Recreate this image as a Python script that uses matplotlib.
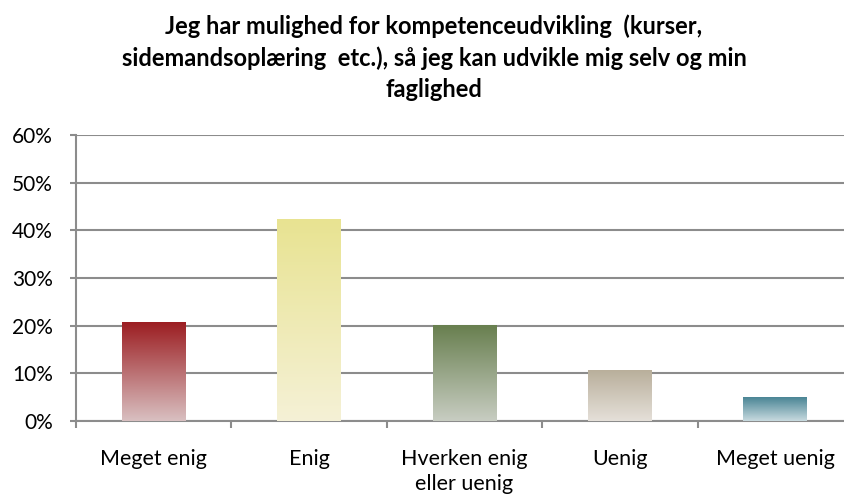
import numpy as np
import matplotlib.pyplot as plt
from matplotlib.colors import LinearSegmentedColormap

# data
categories = ["Meget enig", "Enig", "Hverken enig\neller uenig", "Uenig", "Meget uenig"]
values = [0.208, 0.424, 0.201, 0.107, 0.050]
top_colors = ["#9B1C20", "#E8E391", "#687F4F", "#B8AE9A", "#4A8595"]
bottom_colors = ["#D9C0C1", "#F5F1D6", "#C8CDC2", "#E5E0D9", "#C8DADF"]
y_ticks = [0, 0.1, 0.2, 0.3, 0.4, 0.5, 0.6]
title = ("Jeg har mulighed for kompetenceudvikling  (kurser,\n"
         "sidemandsoplæring  etc.), så jeg kan udvikle mig selv og min\n"
         "faglighed")

FONT = "Lato"
GRID = "#8C8C8C"

fig = plt.figure(figsize=(8.45, 4.96), dpi=100)
ax = fig.add_axes([76 / 845, 75 / 496, 777 / 845, 286 / 496])

x = np.arange(len(categories))
bars = ax.bar(x, values, width=0.41, color="none", zorder=3)

# vertical gradient fill clipped to each bar
grad = np.linspace(0, 1, 256).reshape(-1, 1)
for b, top, bot in zip(bars, top_colors, bottom_colors):
    cmap = LinearSegmentedColormap.from_list("g", [bot, top])
    x0, y0 = b.get_x(), b.get_y()
    im = ax.imshow(grad, cmap=cmap, origin="lower", aspect="auto",
                   extent=(x0, x0 + b.get_width(), y0, y0 + b.get_height()),
                   zorder=3)
    im.set_clip_path(b)

ax.set_xlim(-0.5, 4.5)
ax.set_ylim(0, 0.6)
ax.set_yticks(y_ticks)
ax.set_yticklabels([f"{int(round(t * 100))}%" for t in y_ticks],
                   fontsize=15, family=FONT)
ax.yaxis.grid(True, color=GRID, linewidth=1.5, zorder=0)
ax.set_axisbelow(True)

ax.set_xticks(x)
ax.set_xticklabels(categories, fontsize=15.5, family=FONT, linespacing=1.3)
ax.tick_params(axis="x", length=0, pad=20)
ax.set_xticks(np.arange(-0.5, 5, 1), minor=True)
ax.tick_params(axis="x", which="minor", length=5, width=1.5, color=GRID)
ax.tick_params(axis="y", length=4.5, width=1.5, color=GRID, pad=12)

for s in ["top", "right"]:
    ax.spines[s].set_visible(False)
for s in ["left", "bottom"]:
    ax.spines[s].set_color(GRID)
    ax.spines[s].set_linewidth(1.5)

fig.text(434 / 845, 0.97, title, ha="center", va="top", fontsize=17,
         fontweight="bold", family=FONT, linespacing=1.4)

fig.savefig("out.png", dpi=100)
